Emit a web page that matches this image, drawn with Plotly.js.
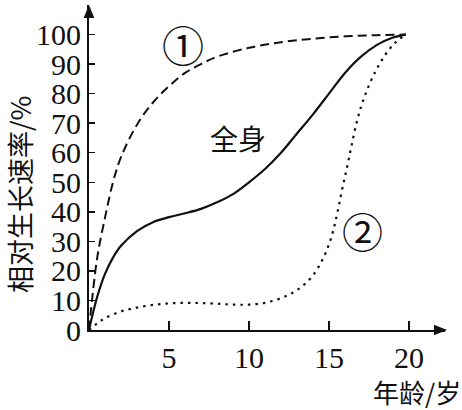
<!DOCTYPE html>
<html>
<head>
<meta charset="utf-8">
<script src="https://cdn.plot.ly/plotly-3.0.1.min.js"></script>
<style>html,body{margin:0;padding:0;background:#fff;}#chart{width:462px;height:410px;}</style>
</head>
<body>
<div id="chart"></div>
<script>
// Curve ① (dashed)
const age1 = [0, 0.5, 1, 1.5, 2, 3, 4, 5, 6, 7, 8, 10, 12, 14, 16, 18, 19.8];
const rate1 = [0, 24, 38, 50, 58.5, 69.5, 77, 82.5, 87, 90, 92.5, 95.5, 97.4, 98.6, 99.4, 99.8, 100];
// 全身 (solid)
const ageBody = [0, 0.5, 1, 1.5, 2, 3, 4, 5, 6, 7, 8, 9, 10, 11, 12, 13, 14, 15, 16, 17, 18, 19, 19.8];
const rateBody = [0, 11, 19, 24.5, 28.5, 33.5, 36.5, 38.2, 39.5, 41, 43.2, 46, 50, 54.5, 60, 66.5, 73, 80, 87, 92.5, 96.5, 99, 100];
// Curve ② (dotted)
const age2 = [0, 0.5, 1, 2, 3, 4, 5, 6, 7, 8, 9, 10, 11, 12, 13, 14, 15, 16, 17, 18, 19, 19.8];
const rate2 = [0, 2.2, 4, 6.3, 7.6, 8.5, 9, 9.2, 9.1, 8.9, 8.6, 8.6, 9.2, 10.8, 13.5, 18.5, 29, 52, 75.5, 88.5, 96.5, 100];
const xTicks = [5, 10, 15, 20];
const yTicks = [0, 10, 20, 30, 40, 50, 60, 70, 80, 90, 100];
const labels = { c1: '①', c2: '②', body: '全身', xTitle: '年龄/岁', yTitle: '相对生长速率/%' };

const serif = 'Liberation Serif, serif';
const cjk = 'Noto Sans CJK SC';

const traces = [
  { x: age1, y: rate1, mode: 'lines', line: { color: '#111', width: 2, dash: '9px,5px', shape: 'spline' } },
  { x: ageBody, y: rateBody, mode: 'lines', line: { color: '#111', width: 2.2, shape: 'spline' } },
  { x: age2, y: rate2, mode: 'lines', line: { color: '#111', width: 2.2, dash: '2.5px,5px', shape: 'spline' } }
];

const layout = {
  width: 462, height: 410,
  margin: { l: 89, r: 17, t: 5, b: 80 },
  paper_bgcolor: '#fff', plot_bgcolor: '#fff',
  showlegend: false,
  xaxis: {
    range: [0, 22.25], showgrid: false, zeroline: false,
    showline: true, linecolor: '#111', linewidth: 2,
    tickvals: xTicks, ticktext: xTicks.map(String),
    ticks: 'inside', ticklen: 9, tickwidth: 1.5, tickcolor: '#111',
    tickfont: { family: serif, size: 30, color: '#111' }
  },
  yaxis: {
    range: [0, 110], showgrid: false, zeroline: false,
    showline: true, linecolor: '#111', linewidth: 2,
    tickvals: yTicks, ticktext: yTicks.map(String),
    ticks: 'inside', ticklen: 6, tickwidth: 1.5, tickcolor: '#111',
    tickfont: { family: serif, size: 30, color: '#111' }
  },
  shapes: [
    { type: 'path', xref: 'paper', yref: 'paper', path: 'M 1.006 0 L 0.969 0.016 L 0.969 -0.016 Z', fillcolor: '#111', line: { width: 0 } },
    { type: 'path', xref: 'paper', yref: 'paper', path: 'M 0.0 1.0 L -0.015 0.96 L 0.015 0.96 Z', fillcolor: '#111', line: { width: 0 } }
  ],
  annotations: [
    { x: 5.9, y: 97, xref: 'x', yref: 'y', text: labels.c1, showarrow: false, font: { family: cjk, size: 42, color: '#111' } },
    { x: 17.1, y: 34, xref: 'x', yref: 'y', text: labels.c2, showarrow: false, font: { family: cjk, size: 41, color: '#111' } },
    { x: 9.3, y: 65, xref: 'x', yref: 'y', text: labels.body, showarrow: false, font: { family: cjk, size: 28, color: '#111' } },
    { x: 1.05, y: -0.19, xref: 'paper', yref: 'paper', xanchor: 'right', yanchor: 'middle', text: labels.xTitle, showarrow: false, font: { family: cjk, size: 26, color: '#111' } },
    { x: -0.197, y: 0.418, xref: 'paper', yref: 'paper', xanchor: 'center', yanchor: 'middle', textangle: -90, text: labels.yTitle, showarrow: false, font: { family: cjk, size: 27, color: '#111' } }
  ]
};

Plotly.newPlot('chart', traces, layout, { displayModeBar: false, staticPlot: true });
</script>
</body>
</html>
